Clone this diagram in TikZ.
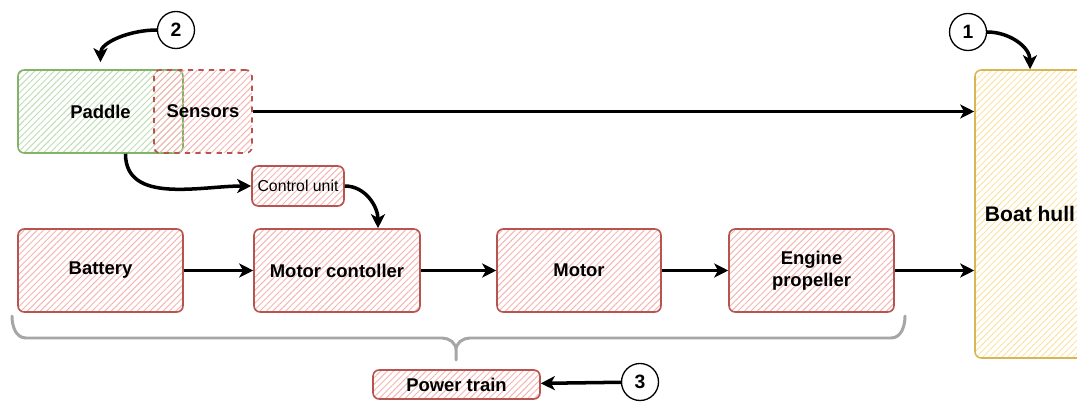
\documentclass[tikz,border=0pt]{standalone}
\usepackage{fontspec}
\setmainfont{Liberation Sans}
\usetikzlibrary{patterns.meta}
\usetikzlibrary{arrows.meta}

\definecolor{redline}{HTML}{B85450}
\definecolor{redhatch}{HTML}{F4B6B3}
\definecolor{greenline}{HTML}{82B366}
\definecolor{greenhatch}{HTML}{BFDDB5}
\definecolor{yellowline}{HTML}{D6B656}
\definecolor{yellowhatch}{HTML}{FBE3A6}
\definecolor{braceline}{HTML}{A6A6A6}

\begin{document}
\begin{tikzpicture}[x=0.02cm,y=0.02cm,
  hatch/.style={pattern={Lines[angle=45,distance=2.6pt,line width=0.55pt]}},
  redbox/.style={hatch,draw=redline,pattern color=redhatch,line width=0.9pt,rounded corners=3.5pt,
    align=center,inner sep=0pt,font=\fontsize{10.5}{12.5}\selectfont\bfseries},
  greenbox/.style={redbox,draw=greenline,pattern color=greenhatch},
  yellowbox/.style={redbox,draw=yellowline,pattern color=yellowhatch,font=\fontsize{12}{14}\selectfont\bfseries},
  stepno/.style={circle,draw=black,line width=0.75pt,minimum size=0.74cm,inner sep=0pt,
    font=\fontsize{11}{13}\selectfont\bfseries},
  arr/.style={line width=2pt,-{Stealth[length=8pt,width=8pt,inset=2.2pt]}}]
\useasboundingbox (0,0) rectangle (1077,403);

% paddle and sensors
\node[greenbox,minimum width=3.3cm,minimum height=1.66cm] (paddle) at (100.5,291.5) {};
\node[redbox,dashed,minimum width=1.96cm,minimum height=1.66cm] (sensors) at (203,291.5) {};
\node[font=\fontsize{10.5}{12.5}\selectfont\bfseries] at (100.5,291.5) {Paddle};
\node[font=\fontsize{10.5}{12.5}\selectfont\bfseries] at (203,291.5) {Sensors};
\node[redbox,font=\fontsize{9}{11}\selectfont,minimum width=1.84cm,minimum height=0.8cm] (cu) at (298,217) {Control unit};

% power train row
\node[redbox,minimum width=3.3cm,minimum height=1.66cm] (battery) at (100.5,132.5) {Battery};
\node[redbox,minimum width=3.32cm,minimum height=1.66cm] (mc) at (337,132.5) {Motor contoller};
\node[redbox,minimum width=3.28cm,minimum height=1.66cm] (motor) at (579,132.5) {Motor};
\node[redbox,minimum width=3.3cm,minimum height=1.66cm] (engine) at (811.5,132.5) {Engine\\propeller};
\node[yellowbox,minimum width=2.2cm,minimum height=5.76cm] (hull) at (1030,189) {Boat hull};
\node[redbox,minimum width=3.34cm,minimum height=0.58cm] (pt) at (456.5,18.5) {Power train};

% numbered markers
\node[stepno] (n2) at (176,373) {2};
\node[stepno] (n1) at (968,371) {1};
\node[stepno] (n3) at (640,21) {3};

% brace
\draw[braceline,line width=1.7pt,line cap=round]
  (12,87) to[out=-90,in=180] (26,65) -- (442,65) to[out=0,in=90] (456,53) -- (456,43)
  (456,53) to[out=90,in=180] (470,65) -- (891,65) to[out=0,in=-90] (905,87);

% connectors
\draw[arr] (sensors.east) -- (sensors.east -| hull.west);
\draw[arr] (battery) -- (mc);
\draw[arr] (mc) -- (motor);
\draw[arr] (motor) -- (engine);
\draw[arr] (engine.east) -- (engine.east -| hull.west);
\draw[arr] ([xshift=0.5cm]paddle.south) to[out=-90,in=180] (cu.west);
\draw[arr] (cu.east) to[out=0,in=90] ([xshift=0.82cm]mc.north);
\draw[arr,shorten >=4pt] (n2.west) to[out=180,in=90] (paddle.north);
\draw[arr] (n1.east) to[out=0,in=90] (hull.north);
\draw[arr] (n3) -- (pt);

\end{tikzpicture}
\end{document}
